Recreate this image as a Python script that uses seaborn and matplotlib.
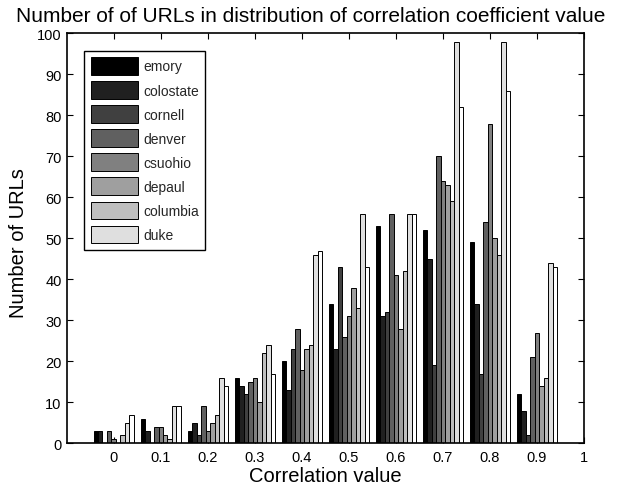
import matplotlib
matplotlib.use("Agg")
import matplotlib.pyplot as plt
import seaborn as sns
import pandas as pd

# ---- data ----
bins = ["0", "0.1", "0.2", "0.3", "0.4", "0.5", "0.6", "0.7", "0.8", "0.9", "1"]
schools = ["emory", "colostate", "cornell", "denver", "csuohio",
           "depaul", "columbia", "duke", "unlabeled"]
emory     = [3, 6, 3, 16, 20, 34, 53, 52, 49, 12, 0]
colostate = [3, 3, 5, 14, 13, 23, 31, 45, 34, 8, 0]
cornell   = [0, 0, 2, 12, 23, 43, 32, 19, 17, 2, 0]
denver    = [3, 4, 9, 15, 28, 26, 56, 70, 54, 21, 0]
csuohio   = [1, 4, 3, 16, 18, 31, 41, 64, 78, 27, 0]
depaul    = [0, 2, 5, 10, 23, 38, 28, 63, 50, 14, 0]
columbia  = [2, 1, 7, 22, 24, 33, 42, 59, 46, 16, 0]
duke      = [5, 9, 16, 24, 46, 56, 56, 98, 98, 44, 0]
unlabeled = [7, 9, 14, 17, 47, 43, 56, 82, 86, 43, 0]
series = [emory, colostate, cornell, denver, csuohio, depaul, columbia, duke, unlabeled]
yticks = list(range(0, 101, 10))

rows = []
for name, vals in zip(schools, series):
    for b, v in zip(bins, vals):
        rows.append({"bin": b, "count": v, "school": name})
df = pd.DataFrame(rows)

# ---- style ----
sns.set_theme(style="white")
plt.rcParams["font.family"] = ["Liberation Sans", "DejaVu Sans"]
plt.rcParams["xtick.direction"] = "in"
plt.rcParams["ytick.direction"] = "in"

grays = [str(k / 8) for k in range(9)]
palette = dict(zip(schools, grays))

fig = plt.figure(figsize=(6.2, 4.89), dpi=100)
W, H = 620, 489
L, R, T, B = 66.7, 584, 34.3, 444.3
ax = fig.add_axes([L / W, 1 - B / H, (R - L) / W, (B - T) / H])

sns.barplot(data=df, x="bin", y="count", hue="school", order=bins,
            hue_order=schools, palette=palette, saturation=1,
            width=0.86, edgecolor="black", linewidth=0.7, ax=ax)

ax.set_xlim(-1, 10)
ax.set_ylim(0, 100)
ax.set_yticks(yticks)
ax.set_xticks(range(len(bins)))
ax.set_xticklabels(bins)
ax.tick_params(axis="both", which="both", direction="in", length=4,
               width=0.8, color="black", labelsize=10.5, labelcolor="black",
               top=True, right=True, bottom=True, left=True)
ax.tick_params(axis="x", pad=5.0)
ax.tick_params(axis="y", pad=3.6)
for s in ax.spines.values():
    s.set_visible(True)
    s.set_color("black")
    s.set_linewidth(1.2)
ax.set_xlabel("")
ax.set_ylabel("")

handles, labels = ax.get_legend_handles_labels()
for h in handles[:8]:
    try:
        h.set_edgecolor("black")
        h.set_linewidth(0.7)
    except Exception:
        pass
leg = ax.legend(handles[:8], labels[:8], loc="upper left",
                bbox_to_anchor=((84.3 - L) / (R - L), 1 - (51.7 - T) / (B - T)),
                borderaxespad=0, frameon=True, fancybox=False, framealpha=1,
                edgecolor="black", fontsize=10, handlelength=3.45,
                handleheight=1.6, labelspacing=0.45, handletextpad=0.34,
                borderpad=0.45)
leg.get_frame().set_linewidth(1.0)

fig.text(311 / W, 1 - 21.7 / H,
         "Number of of URLs in distribution of correlation coefficient value",
         ha="center", va="baseline", fontsize=15, color="black")
fig.text(325.7 / W, 1 - 481.7 / H, "Correlation value", ha="center",
         va="baseline", fontsize=14.5, color="black")
fig.text(19 / W, 1 - 243 / H, "Number of URLs", ha="center", va="center",
         rotation=90, fontsize=14.5, color="black")

fig.savefig("out.png", dpi=100, facecolor="white")
